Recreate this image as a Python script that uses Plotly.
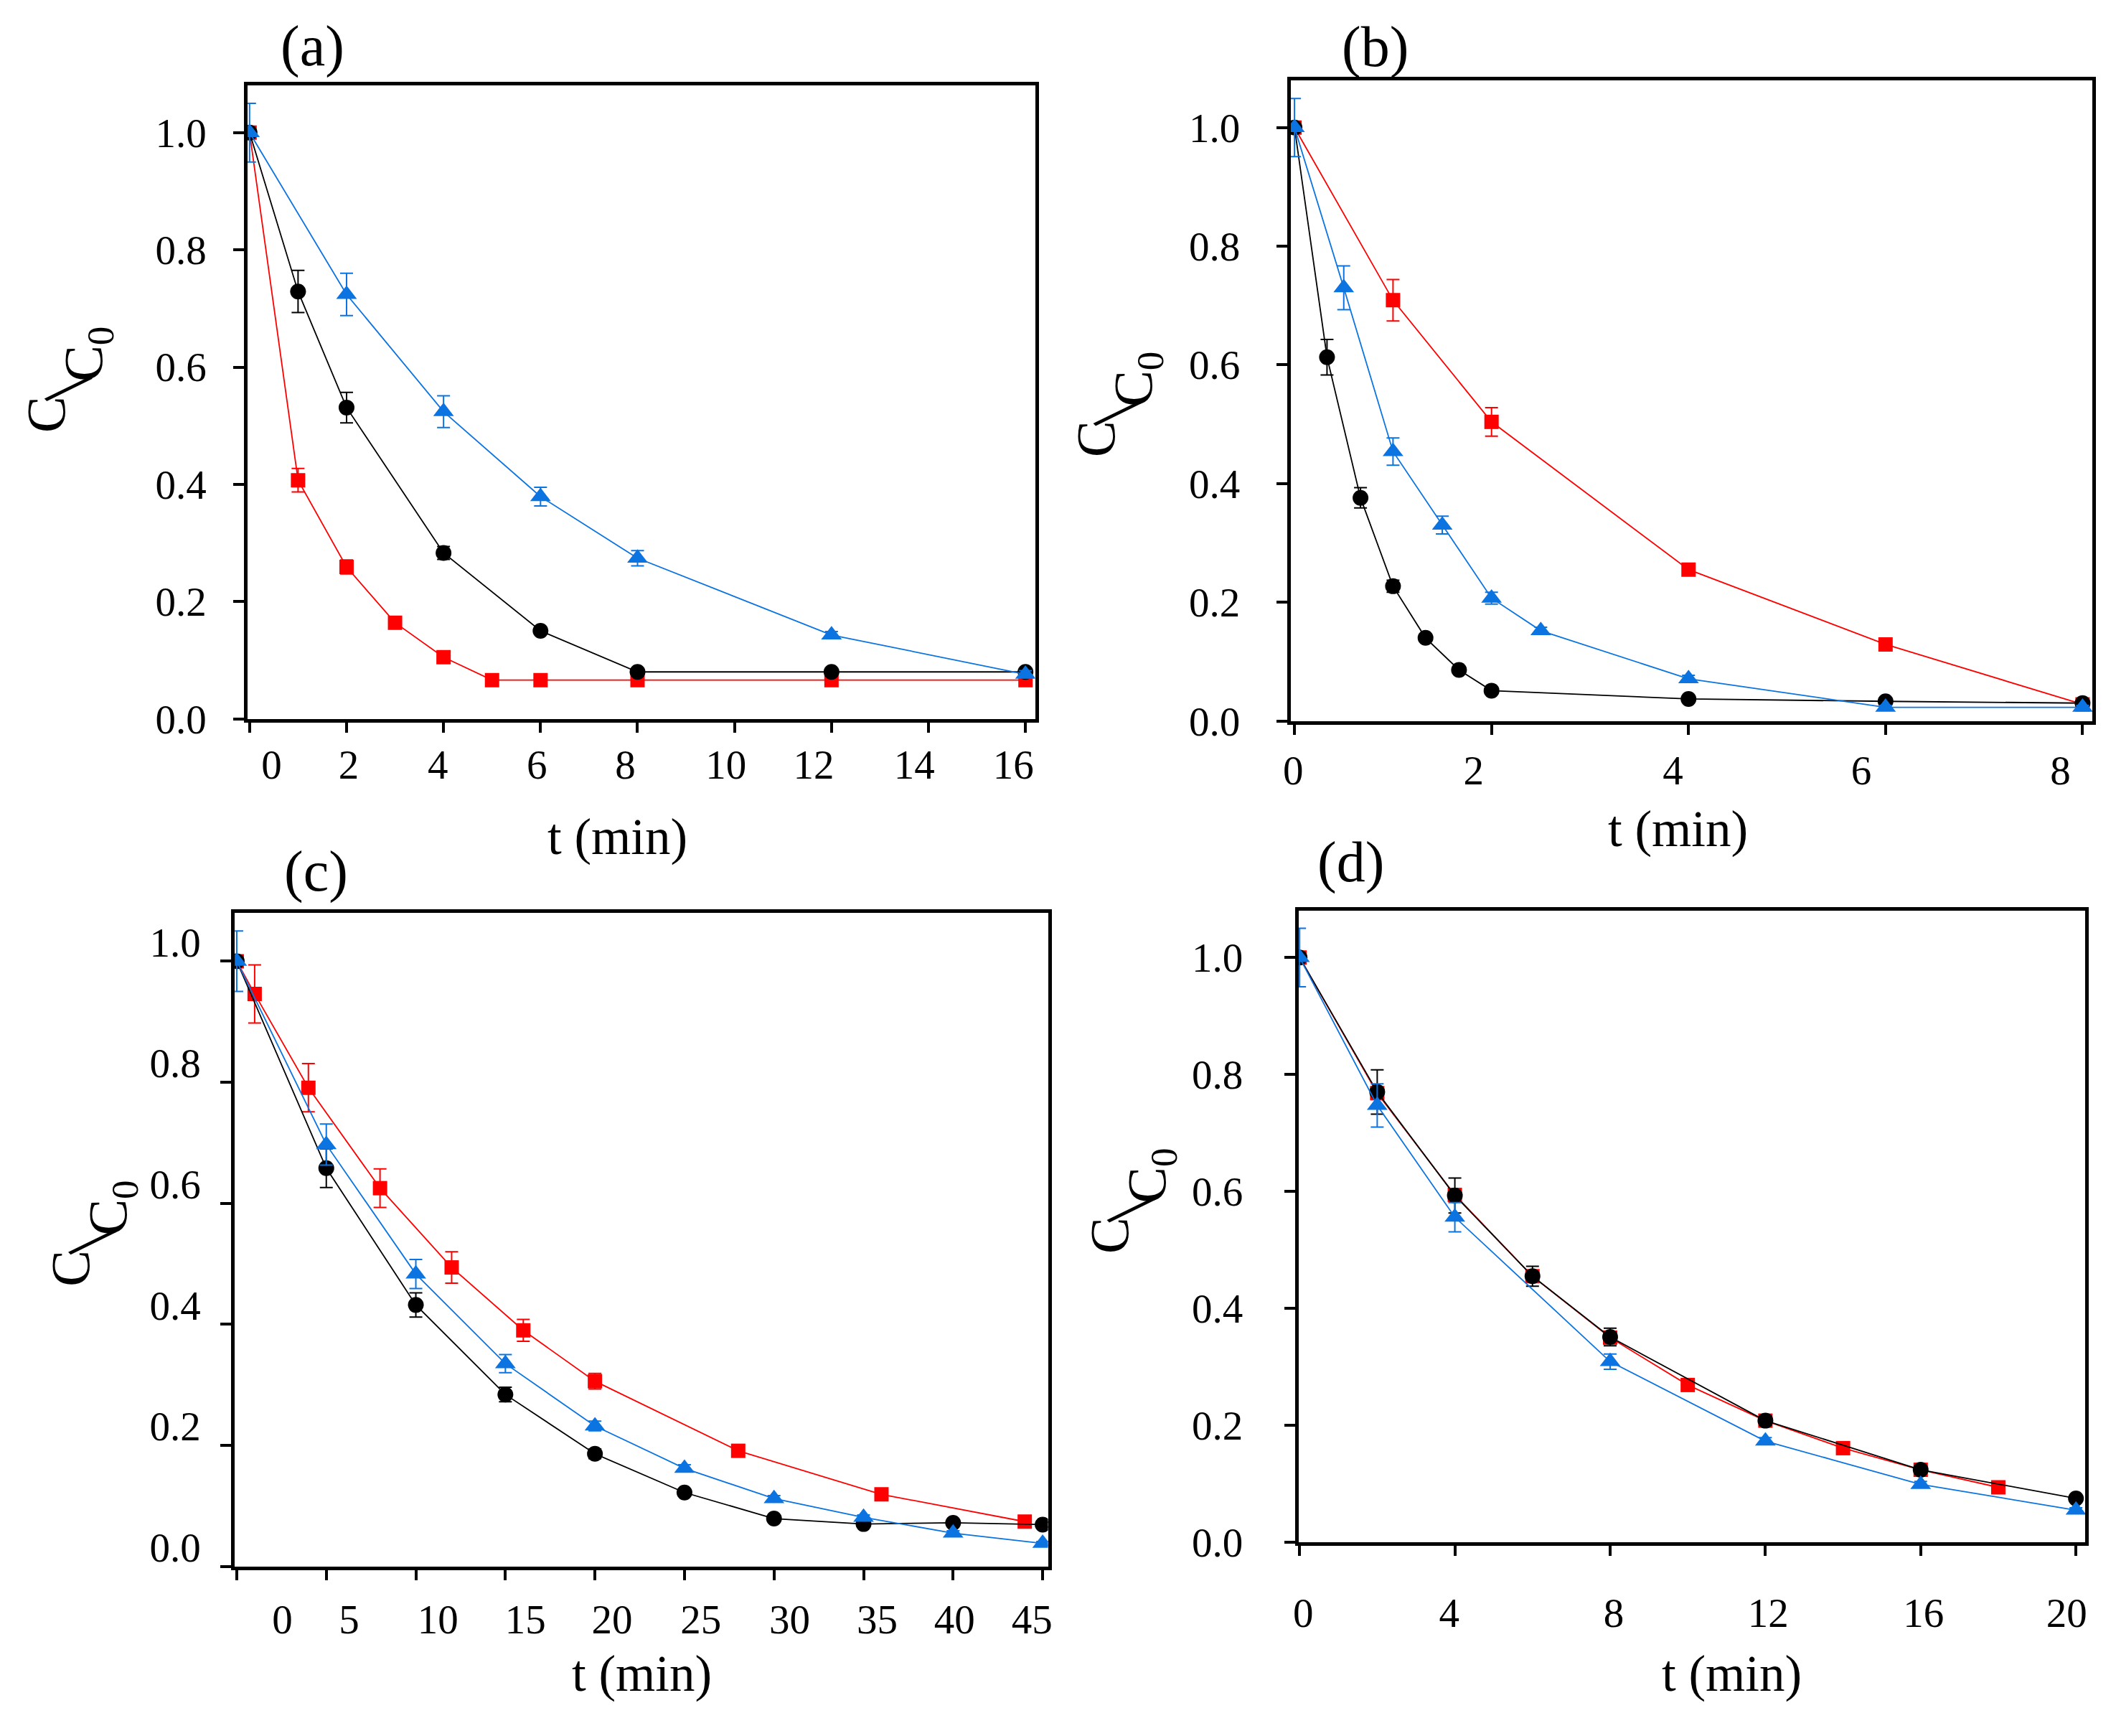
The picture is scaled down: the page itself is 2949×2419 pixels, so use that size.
import plotly.graph_objects as go

# ---- data (t in min, C/C0) ----
a_t_red = [0, 1, 2, 3, 4, 5, 6, 8, 12, 16]
a_red = [1.0, 0.407, 0.259, 0.164, 0.105, 0.066, 0.066, 0.066, 0.066, 0.066]
a_red_err = [0, 0.02, 0.012, 0.006, 0.008, 0, 0, 0, 0, 0]
a_t_black = [0, 1, 2, 4, 6, 8, 12, 16]
a_black = [1.0, 0.729, 0.531, 0.283, 0.150, 0.080, 0.080, 0.080]
a_black_err = [0, 0.036, 0.026, 0.011, 0.006, 0.006, 0.006, 0.006]
a_t_blue = [0, 2, 4, 6, 8, 12, 16]
a_blue = [1.0, 0.724, 0.524, 0.379, 0.274, 0.143, 0.076]
a_blue_err = [0.05, 0.036, 0.027, 0.016, 0.013, 0.006, 0.006]

b_t_red = [0, 1, 2, 4, 6, 8]
b_red = [1.0, 0.709, 0.504, 0.255, 0.129, 0.028]
b_red_err = [0, 0.035, 0.024, 0.008, 0.006, 0.004]
b_t_black = [0, 0.33, 0.67, 1, 1.33, 1.67, 2, 4, 6, 8]
b_black = [1.0, 0.613, 0.376, 0.227, 0.140, 0.086, 0.051, 0.037, 0.033, 0.030]
b_black_err = [0, 0.03, 0.017, 0.01, 0.006, 0.005, 0.005, 0.005, 0.005, 0.005]
b_t_blue = [0, 0.5, 1, 1.5, 2, 2.5, 4, 6, 8]
b_blue = [1.0, 0.73, 0.454, 0.330, 0.207, 0.152, 0.071, 0.023, 0.023]
b_blue_err = [0.049, 0.037, 0.023, 0.015, 0.01, 0.006, 0.006, 0.003, 0.003]

c_t_red = [0, 1, 4, 8, 12, 16, 20, 28, 36, 44]
c_red = [1.0, 0.946, 0.791, 0.625, 0.494, 0.390, 0.306, 0.191, 0.119, 0.074]
c_red_err = [0, 0.048, 0.04, 0.032, 0.026, 0.018, 0.013, 0.006, 0.005, 0.004]
c_t_black = [0, 5, 10, 15, 20, 25, 30, 35, 40, 45]
c_black = [1.0, 0.658, 0.432, 0.284, 0.186, 0.122, 0.079, 0.070, 0.072, 0.069]
c_black_err = [0, 0.032, 0.02, 0.012, 0.008, 0.005, 0.004, 0.004, 0.004, 0.004]
c_t_blue = [0, 5, 10, 15, 20, 25, 30, 35, 40, 45]
c_blue = [1.0, 0.697, 0.483, 0.335, 0.232, 0.162, 0.112, 0.081, 0.055, 0.038]
c_blue_err = [0.05, 0.034, 0.024, 0.015, 0.008, 0.006, 0.005, 0.004, 0.004, 0.003]

d_t_red = [0, 2, 4, 6, 8, 10, 12, 14, 16, 18]
d_red = [1.0, 0.768, 0.594, 0.455, 0.350, 0.269, 0.208, 0.161, 0.124, 0.094]
d_red_err = [0, 0.01, 0.01, 0.008, 0.008, 0.008, 0.006, 0.005, 0.005, 0.005]
d_t_black = [0, 2, 4, 6, 8, 12, 16, 20]
d_black = [1.0, 0.770, 0.593, 0.455, 0.351, 0.208, 0.124, 0.075]
d_black_err = [0, 0.038, 0.03, 0.017, 0.015, 0.008, 0.006, 0.004]
d_t_blue = [0, 2, 4, 8, 12, 16, 20]
d_blue = [1.0, 0.747, 0.556, 0.309, 0.173, 0.099, 0.055]
d_blue_err = [0.05, 0.037, 0.025, 0.013, 0.006, 0.005, 0.004]

y_ticks = [0, 0.2, 0.4, 0.6, 0.8, 1.0]
a_x_ticks = [0, 2, 4, 6, 8, 10, 12, 14, 16]
b_x_ticks = [0, 2, 4, 6, 8]
c_x_ticks = [0, 5, 10, 15, 20, 25, 30, 35, 40, 45]
d_x_ticks = [0, 4, 8, 12, 16, 20]

# page is 2949x2419; the body keeps its default 8px margin, so shift everything by 8px
W, H = 2949, 2419
PAD = 8
FW, FH = W - 2 * PAD, H - 2 * PAD
RED, BLACK, BLUE = "#ff0000", "#000000", "#0b74e0"
FONT = "Liberation Serif"


def fx(p):
    return (p - PAD) / FW


def fy(p):
    return 1 - (p - PAD) / FH


# layout per panel, in page pixels: box = left, right, top, bottom.
# xlab_dx / ylab_dy: the original's tick labels sit a little off their ticks
panels = [
    dict(name="(a)", box=(336, 1440, 121, 1015), xr=[-0.04, 16.2], xt=a_x_ticks,
         xlab_dx=[31, 3, -8, -5, -17, -12, -25, -20, -17], ylab_dy=0, xoff=0, yoff=30,
         label=(427, 65), xtitle=(854, 1182), ytitle=(86, 536),
         series=[(a_t_red, a_red, a_red_err, RED, "square", 20),
                 (a_t_black, a_black, a_black_err, BLACK, "circle", 22),
                 (a_t_blue, a_blue, a_blue_err, BLUE, "triangle-up", 25)]),
    dict(name="(b)", box=(1798, 2922, 113, 1018), xr=[-0.04, 8.1], xt=b_x_ticks,
         xlab_dx=[-2, -25, -22, -34, -31], ylab_dy=0, xoff=5, yoff=43,
         label=(1917, 66), xtitle=(2341, 1171), ytitle=(1557, 571),
         series=[(b_t_red, b_red, b_red_err, RED, "square", 20),
                 (b_t_black, b_black, b_black_err, BLACK, "circle", 22),
                 (b_t_blue, b_blue, b_blue_err, BLUE, "triangle-up", 25)]),
    dict(name="(c)", box=(318, 1458, 1289, 2212), xr=[-0.11, 45.3], xt=c_x_ticks,
         xlab_dx=[64, 32, 31, 28, 24, 23, 22, 19, 2, -15], ylab_dy=-27, xoff=10, yoff=20,
         label=(432, 1231), xtitle=(889, 2364), ytitle=(120, 1742),
         series=[(c_t_red, c_red, c_red_err, RED, "square", 20),
                 (c_t_black, c_black, c_black_err, BLACK, "circle", 22),
                 (c_t_blue, c_blue, c_blue_err, BLUE, "triangle-up", 25)]),
    dict(name="(d)", box=(1809, 2912, 1286, 2178), xr=[-0.03, 20.24], xt=d_x_ticks,
         xlab_dx=[5, -8, 5, 4, 4, -13], ylab_dy=0, xoff=34, yoff=50,
         label=(1882, 1218), xtitle=(2416, 2364), ytitle=(1576, 1696),
         series=[(d_t_red, d_red, d_red_err, RED, "square", 20),
                 (d_t_black, d_black, d_black_err, BLACK, "circle", 22),
                 (d_t_blue, d_blue, d_blue_err, BLUE, "triangle-up", 25)]),
]

fig = go.Figure()
annotations = []


def note(text, x, y, size, angle=0):
    return dict(text=text, x=fx(x), y=fy(y), xref="paper", yref="paper",
                xanchor="center", yanchor="middle", textangle=angle, showarrow=False,
                font=dict(size=size, family=FONT, color="black"))


tick_font = dict(size=57, family=FONT, color="black")

for i, p in enumerate(panels):
    n = "" if i == 0 else str(i + 1)
    m = str(i + 5)  # overlay axes that only carry the tick labels
    l, r, t, b = p["box"]
    for tx, ty, err, col, sym, sz in p["series"]:
        fig.add_trace(go.Scatter(
            x=tx, y=ty, mode="lines+markers", xaxis="x" + n, yaxis="y" + n,
            line=dict(color=col, width=1.8),
            marker=dict(color=col, symbol=sym, size=sz, line=dict(width=0)),
            error_y=dict(type="data", array=err, color=col, thickness=2, width=9),
            showlegend=False,
        ))
    fig.add_trace(go.Scatter(x=[], y=[], xaxis="x" + m, yaxis="y" + m,
                             showlegend=False, hoverinfo="skip"))

    xppu = (r - l) / (p["xr"][1] - p["xr"][0])
    yppu = (b - t) / 1.08
    common = dict(showline=True, linewidth=5, linecolor="black", mirror=True,
                  ticks="outside", tickwidth=4, tickcolor="black", showgrid=False,
                  zeroline=False, showticklabels=False)
    hidden = dict(showline=False, showgrid=False, zeroline=False, ticks="outside",
                  tickcolor="rgba(0,0,0,0)", tickfont=tick_font)
    fig.update_layout(**{
        "xaxis" + n: dict(domain=[fx(l), fx(r)], range=p["xr"], tickvals=p["xt"],
                          anchor="y" + n, ticklen=14, **common),
        "yaxis" + n: dict(domain=[fy(b), fy(t)], range=[0, 1.08], tickvals=y_ticks,
                          anchor="x" + n, ticklen=15, **common),
        "xaxis" + m: dict(overlaying="x" + n, anchor="y" + m, range=p["xr"],
                          tickvals=[v + d / xppu for v, d in zip(p["xt"], p["xlab_dx"])],
                          ticktext=[str(v) for v in p["xt"]], ticklen=14,
                          ticklabelstandoff=p["xoff"], **hidden),
        "yaxis" + m: dict(overlaying="y" + n, anchor="x" + m, range=[0, 1.08],
                          tickvals=[v - p["ylab_dy"] / yppu for v in y_ticks],
                          ticktext=["%.1f" % v for v in y_ticks], ticklen=15,
                          ticklabelstandoff=p["yoff"], **hidden),
    })

    annotations.append(note(p["name"], *p["label"], 80))
    annotations.append(note("t (min)", *p["xtitle"], 71))
    # y title  C / C0 : raised C, slanted slash, lowered C0
    cx, cy = p["ytitle"]
    annotations.append(note("C", cx - 32, cy + 49, 76, -90))
    annotations.append(note("/", cx - 1, cy + 12, 100, 45))
    annotations.append(note("C<sub>0</sub>", cx + 26, cy - 36, 76, -90))

fig.update_layout(
    width=FW, height=FH,
    margin=dict(l=0, r=0, t=0, b=0),
    paper_bgcolor="white", plot_bgcolor="rgba(0,0,0,0)",
    font=dict(family=FONT, color="black"),
    annotations=annotations,
)

fig.write_html("out.html")
